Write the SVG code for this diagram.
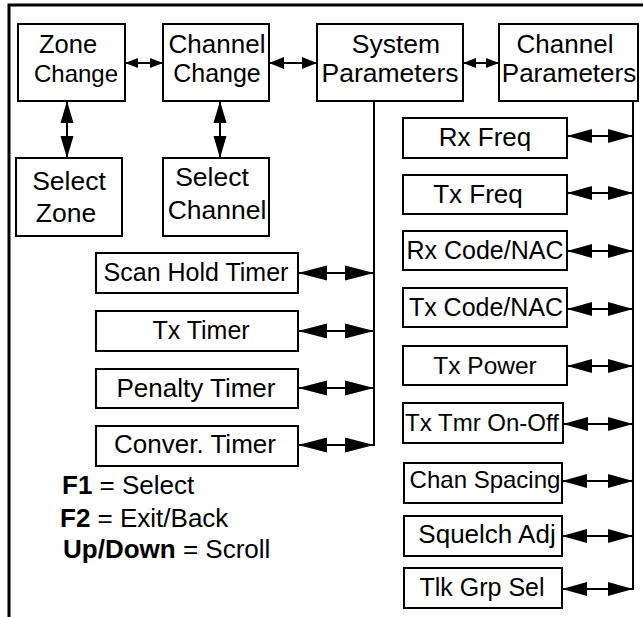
<svg xmlns="http://www.w3.org/2000/svg" width="643" height="617" viewBox="0 0 643 617">
<style>
.box{fill:#fff;stroke:#000;stroke-width:2}
text{font-family:"Liberation Sans",Arial,sans-serif;font-size:25px;fill:#000;text-anchor:middle}
.leg{text-anchor:start;font-size:26px}
.b{font-weight:bold}
.ln{fill:none;stroke:#000;stroke-width:2}
.ah{fill:#000;stroke:none}
</style>
<defs>
<path id="hS" class="ah" d="M0,0 L-13,-5 L-13,5 z"/>
<path id="hM" class="ah" d="M0,0 L-15,-6 L-15,6 z"/>
<path id="hV" class="ah" d="M0,0 L-22,-6.5 L-22,6.5 z"/>
<path id="hL" class="ah" d="M0,0 L-29,-7.5 L-29,7.5 z"/>
<path id="hR" class="ah" d="M0,0 L-25,-7 L-25,7 z"/>
</defs>
<rect width="643" height="617" fill="#fff"/>
<path d="M9,617 V5 H643" fill="none" stroke="#000" stroke-width="3"/>

<g id="connectors">
<line class="ln" x1="125" y1="63" x2="163" y2="63"/>
<use href="#hS" transform="translate(125,63) rotate(180)"/><use href="#hS" transform="translate(163,63)"/>
<line class="ln" x1="269" y1="63" x2="317" y2="63"/>
<use href="#hM" transform="translate(269,63) rotate(180)"/><use href="#hM" transform="translate(317,63)"/>
<line class="ln" x1="463" y1="63" x2="499" y2="63"/>
<use href="#hS" transform="translate(463,63) rotate(180)"/><use href="#hS" transform="translate(499,63)"/>
<line class="ln" x1="67" y1="101" x2="67" y2="158"/>
<use href="#hV" transform="translate(67,101) rotate(-90)"/><use href="#hV" transform="translate(67,158) rotate(90)"/>
<line class="ln" x1="220" y1="101" x2="220" y2="158"/>
<use href="#hV" transform="translate(220,101) rotate(-90)"/><use href="#hV" transform="translate(220,158) rotate(90)"/>

<path class="ln" d="M374,101 V446"/>
<line class="ln" x1="298" y1="273" x2="374" y2="273"/>
<use href="#hL" transform="translate(298,273) rotate(180)"/><use href="#hL" transform="translate(374,273)"/>
<line class="ln" x1="298" y1="331" x2="374" y2="331"/>
<use href="#hL" transform="translate(298,331) rotate(180)"/><use href="#hL" transform="translate(374,331)"/>
<line class="ln" x1="298" y1="388" x2="374" y2="388"/>
<use href="#hL" transform="translate(298,388) rotate(180)"/><use href="#hL" transform="translate(374,388)"/>
<line class="ln" x1="298" y1="445" x2="374" y2="445"/>
<use href="#hL" transform="translate(298,445) rotate(180)"/><use href="#hL" transform="translate(374,445)"/>

<path class="ln" d="M633,101 V590"/>
<line class="ln" x1="567" y1="136" x2="633" y2="136"/>
<use href="#hR" transform="translate(567,136) rotate(180)"/><use href="#hR" transform="translate(633,136)"/>
<line class="ln" x1="567" y1="193" x2="633" y2="193"/>
<use href="#hR" transform="translate(567,193) rotate(180)"/><use href="#hR" transform="translate(633,193)"/>
<line class="ln" x1="567" y1="251" x2="633" y2="251"/>
<use href="#hR" transform="translate(567,251) rotate(180)"/><use href="#hR" transform="translate(633,251)"/>
<line class="ln" x1="567" y1="309" x2="633" y2="309"/>
<use href="#hR" transform="translate(567,309) rotate(180)"/><use href="#hR" transform="translate(633,309)"/>
<line class="ln" x1="567" y1="366" x2="633" y2="366"/>
<use href="#hR" transform="translate(567,366) rotate(180)"/><use href="#hR" transform="translate(633,366)"/>
<line class="ln" x1="563" y1="424" x2="633" y2="424"/>
<use href="#hR" transform="translate(563,424) rotate(180)"/><use href="#hR" transform="translate(633,424)"/>
<line class="ln" x1="562" y1="481" x2="633" y2="481"/>
<use href="#hR" transform="translate(562,481) rotate(180)"/><use href="#hR" transform="translate(633,481)"/>
<line class="ln" x1="562" y1="536" x2="633" y2="536"/>
<use href="#hR" transform="translate(562,536) rotate(180)"/><use href="#hR" transform="translate(633,536)"/>
<line class="ln" x1="562" y1="589" x2="633" y2="589"/>
<use href="#hR" transform="translate(562,589) rotate(180)"/><use href="#hR" transform="translate(633,589)"/>
</g>

<g id="zoneChange"><rect class="box" x="18" y="24" width="107" height="77"/><text x="68" y="53" style="font-size:25.5px">Zone</text><text x="76" y="82" style="font-size:24px">Change</text></g>
<g id="channelChange"><rect class="box" x="163" y="24" width="106" height="77"/><text x="217" y="53" style="font-size:26px">Channel</text><text x="217" y="82">Change</text></g>
<g id="systemParameters"><rect class="box" x="317" y="24" width="146" height="77"/><text x="396" y="53" style="font-size:26.5px">System</text><text x="390" y="82" style="font-size:26.5px">Parameters</text></g>
<g id="channelParameters"><rect class="box" x="499" y="24" width="139" height="77"/><text x="565" y="53" style="font-size:26px">Channel</text><text x="569" y="82" style="font-size:26px">Parameters</text></g>
<g id="selectZone"><rect class="box" x="16" y="158" width="106" height="78"/><text x="69" y="190" style="font-size:26.5px">Select</text><text x="66" y="222" style="font-size:26.5px">Zone</text></g>
<g id="selectChannel"><rect class="box" x="163" y="158" width="106" height="78"/><text x="212" y="186" style="font-size:26.5px">Select</text><text x="217" y="219" style="font-size:26.5px">Channel</text></g>

<g id="scanHoldTimer"><rect class="box" x="96" y="253" width="202" height="40"/><text x="196" y="281">Scan Hold Timer</text></g>
<g id="txTimer"><rect class="box" x="96" y="311" width="202" height="40"/><text x="201" y="339">Tx Timer</text></g>
<g id="penaltyTimer"><rect class="box" x="96" y="369" width="202" height="39"/><text x="196" y="397" style="font-size:26px">Penalty Timer</text></g>
<g id="converTimer"><rect class="box" x="96" y="426" width="202" height="40"/><text x="195" y="453" style="font-size:26px">Conver. Timer</text></g>

<g id="rxFreq"><rect class="box" x="403" y="118" width="164" height="40"/><text x="485" y="146" style="font-size:26px">Rx Freq</text></g>
<g id="txFreq"><rect class="box" x="403" y="175" width="164" height="39"/><text x="478" y="203" style="font-size:26px">Tx Freq</text></g>
<g id="rxCodeNac"><rect class="box" x="403" y="231" width="164" height="39"/><text x="485" y="259">Rx Code/NAC</text></g>
<g id="txCodeNac"><rect class="box" x="403" y="288" width="164" height="39"/><text x="486" y="316">Tx Code/NAC</text></g>
<g id="txPower"><rect class="box" x="403" y="346" width="164" height="39"/><text x="485" y="374" style="font-size:24.5px">Tx Power</text></g>
<g id="txTmrOnOff"><rect class="box" x="403" y="403" width="160" height="40"/><text x="482" y="431" style="font-size:24px">Tx Tmr On-Off</text></g>
<g id="chanSpacing"><rect class="box" x="404" y="463" width="158" height="40"/><text x="485" y="488" style="font-size:24px">Chan Spacing</text></g>
<g id="squelchAdj"><rect class="box" x="404" y="516" width="158" height="40"/><text x="487" y="543" style="font-size:26px">Squelch Adj</text></g>
<g id="tlkGrpSel"><rect class="box" x="404" y="568" width="158" height="40"/><text x="482" y="596">Tlk Grp Sel</text></g>

<g id="legend">
<text class="leg" x="62" y="494"><tspan class="b">F1</tspan> = Select</text>
<text class="leg" x="60" y="527"><tspan class="b">F2</tspan> = Exit/Back</text>
<text class="leg" x="63" y="558"><tspan class="b">Up/Down</tspan> = Scroll</text>
</g>
</svg>
